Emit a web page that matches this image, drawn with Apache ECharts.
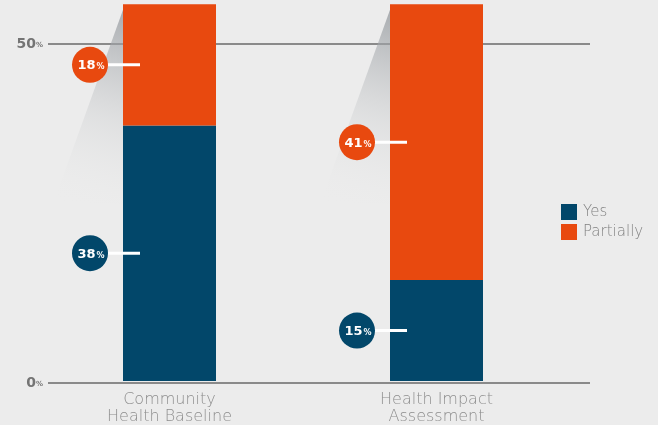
<!DOCTYPE html>
<html>
<head>
<meta charset="utf-8">
<script src="https://cdn.jsdelivr.net/npm/echarts@6/dist/echarts.min.js"></script>
<style>
  html, body { margin: 0; padding: 0; background: #ececec; }
  #chart { width: 658px; height: 425px; }
</style>
</head>
<body>
<div id="chart"></div>
<script>
// Share of assessments, by kind
const categories = ['Community\nHealth Baseline', 'Health Impact\nAssessment'];
const yesValues = [38, 15];
const partialValues = [18, 41];
const yTicks = [0, 50];

const DARK = '#02476a';
const ORANGE = '#e8490f';
const BAR_W = 93;
const WIDE = '"DejaVu Sans ExtraLight", "DejaVu Sans Light", "DejaVu Sans", sans-serif';
const WIDE_BOLD = '"DejaVu Sans", sans-serif';

const totals = yesValues.map((v, i) => v + partialValues[i]);
const yMax = Math.max(...totals);
const zeroY = 384;
const pxPerUnit = (383 - 44) / (yTicks[1] - yTicks[0]);
const barTop = zeroY - pxPerUnit * yMax;

// Bubble label with a short white leader drawn into the segment
function bubbleRenderer(color) {
  return function (params, api) {
    const cat = api.value(0);
    const base = api.value(1);
    const val = api.value(2);
    const mid = api.coord([cat, base + val / 2]);
    const left = mid[0] - BAR_W / 2;
    const cx = left - 33;
    return {
      type: 'group',
      children: [
        { type: 'rect', shape: { x: left - 16, y: mid[1] - 1.5, width: 33, height: 3 },
          style: { fill: '#ffffff' } },
        { type: 'circle', shape: { cx: cx, cy: mid[1], r: 18 },
          style: { fill: color } },
        { type: 'text',
          style: {
            x: cx + 1, y: mid[1] + 1,
            text: '{n|' + val + '}{p|%}',
            align: 'center', verticalAlign: 'middle',
            rich: {
              n: { fontFamily: WIDE_BOLD, fontWeight: 'bold', fontSize: 13, fill: '#fff', color: '#fff' },
              p: { fontFamily: WIDE_BOLD, fontWeight: 'bold', fontSize: 8, fill: '#fff', color: '#fff', padding: [3, 0, 0, 1] }
            }
          } }
      ]
    };
  };
}

// Soft shading falling from each bar's top-left corner
function shadeRenderer(params, api) {
  const cat = api.value(0);
  const top = api.coord([cat, api.value(1)]);
  const left = top[0] - BAR_W / 2;
  return {
    type: 'polygon',
    shape: { points: [[left + 2, top[1]], [left + 2, top[1] + 200], [left - 70, top[1] + 200]] },
    style: {
      fill: {
        type: 'linear', x: 1, y: 0, x2: 0.15, y2: 1,
        colorStops: [
          { offset: 0, color: 'rgba(140,145,150,0.75)' },
          { offset: 0.55, color: 'rgba(200,202,204,0.35)' },
          { offset: 1, color: 'rgba(236,236,236,0)' }
        ]
      }
    }
  };
}

const chart = echarts.init(document.getElementById('chart'), null, { renderer: 'canvas' });

chart.setOption({
  backgroundColor: '#ececec',
  animation: false,
  legend: {
    data: ['Yes', 'Partially'],
    orient: 'vertical',
    left: 561,
    top: 204,
    padding: 0,
    icon: 'rect',
    itemWidth: 16,
    itemHeight: 16,
    itemGap: 4,
    textStyle: { color: '#828282', fontSize: 15, fontFamily: WIDE, fontWeight: 300, padding: [0, 0, 0, 1] }
  },
  grid: [
    { left: 36, right: 88, top: barTop, bottom: 425 - zeroY },
    { left: 48, right: 68, top: 44, bottom: 42 }
  ],
  xAxis: [
    {
      type: 'category', gridIndex: 0, data: categories,
      axisLine: { show: false }, axisTick: { show: false },
      axisLabel: { color: '#8e8e8e', fontSize: 16, lineHeight: 17, margin: 10, fontFamily: WIDE, fontWeight: 300 }
    },
    { type: 'category', gridIndex: 1, data: categories, show: false }
  ],
  yAxis: [
    { type: 'value', gridIndex: 0, min: 0, max: yMax, show: false },
    {
      type: 'value', gridIndex: 1, min: yTicks[0], max: yTicks[1], interval: yTicks[1] - yTicks[0],
      axisLine: { show: false }, axisTick: { show: false },
      splitLine: { show: true, lineStyle: { color: '#8a8a8a', width: 2 } },
      axisLabel: {
        margin: 5,
        formatter: v => '{n|' + v + '}{p|%}',
        rich: {
          n: { color: '#747474', fontSize: 14, fontWeight: 'bold', fontFamily: WIDE_BOLD },
          p: { color: '#747474', fontSize: 7, fontWeight: 'bold', fontFamily: WIDE_BOLD, padding: [3, 0, 0, 0] }
        }
      }
    }
  ],
  series: [
    {
      type: 'custom', xAxisIndex: 0, yAxisIndex: 0, z: 1, silent: true,
      renderItem: shadeRenderer,
      data: totals.map((t, i) => [i, t])
    },
    {
      name: 'Yes', type: 'bar', stack: 'total', xAxisIndex: 0, yAxisIndex: 0,
      barWidth: BAR_W, itemStyle: { color: DARK }, z: 2,
      data: yesValues
    },
    {
      name: 'Partially', type: 'bar', stack: 'total', xAxisIndex: 0, yAxisIndex: 0,
      barWidth: BAR_W, itemStyle: { color: ORANGE }, z: 2,
      data: partialValues
    },
    {
      type: 'custom', xAxisIndex: 0, yAxisIndex: 0, z: 5, silent: true,
      renderItem: bubbleRenderer(DARK),
      data: yesValues.map((v, i) => [i, 0, v])
    },
    {
      type: 'custom', xAxisIndex: 0, yAxisIndex: 0, z: 5, silent: true,
      renderItem: bubbleRenderer(ORANGE),
      data: partialValues.map((v, i) => [i, yesValues[i], v])
    }
  ]
});
</script>
</body>
</html>
